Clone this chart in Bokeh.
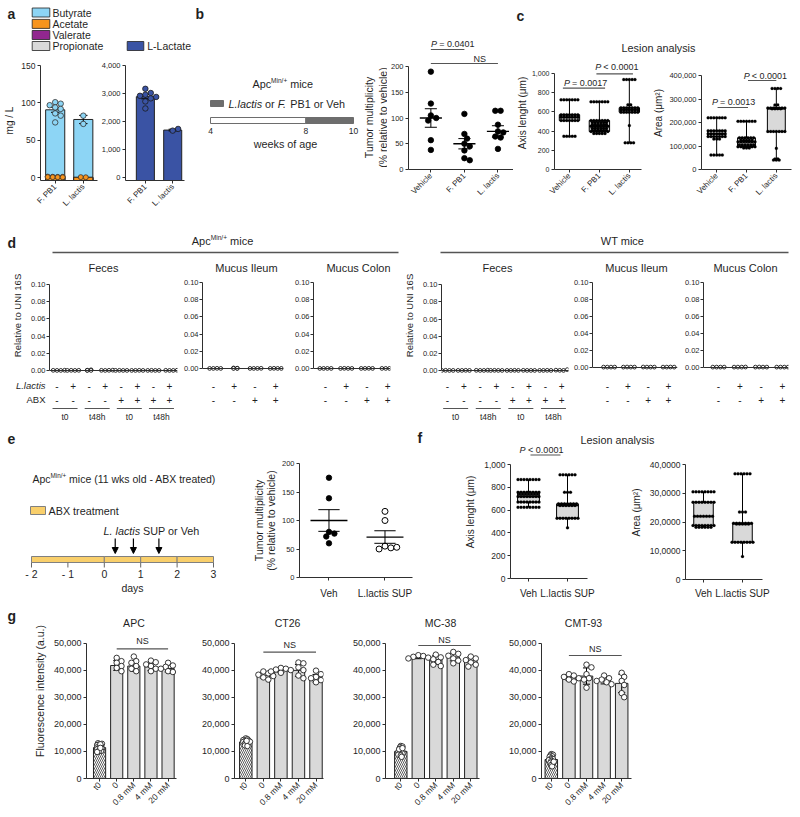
import math
from collections import defaultdict
from bokeh.plotting import figure
from bokeh.layouts import row, column
from bokeh.models import Range1d, LinearAxis, FixedTicker, NumeralTickFormatter, Label, Arrow, NormalHead
from bokeh.embed import file_html
from bokeh.resources import INLINE

FONT = "Liberation Sans"
TXT = "#1f1f1f"
AXC = "#2f2f2f"
LINE = "#555555"
BOXGREY = "#d9d9d9"

# ================= DATA =================
# (a) metabolites (mg / L)
a_groups = ["F. PB1", "L. lactis"]
a_butyrate = [90.8, 77.9]
a_butyrate_sem = [3.3, 5.5]
a_acetate = [1.1, 0.8]
a_valerate = [0.3, 0.2]
a_propionate = [0.5, 0.4]
a_butyrate_pts = [[101, 99, 97, 94, 92, 86, 83, 74], [83, 72]]
a_acetate_pts = [[1.6, 1.4, 1.2, 1.0, 0.9, 0.8, 1.3, 0.7], [0.9, 0.7]]
a_lactate = [2890, 1700]
a_lactate_sem = [75, 30]
a_lactate_pts = [[3170, 3020, 2960, 2920, 2880, 2830, 2720, 2470], [1680, 1740]]
a_series = ["Butyrate", "Acetate", "Valerate", "Propionate", "L-Lactate"]
a_colors = ["#8dd5f5", "#f7941d", "#92278f", "#d9d9d9", "#3a53a4"]

# (b) tumour multiplicity
b_weeks = [4, 8, 10]
b_groups = ["Vehicle", "F. PB1", "L. lactis"]
b_pts = [[190, 128, 105, 100, 95, 57, 38],
         [108, 69, 60, 50, 45, 37, 22, 18],
         [114, 114, 87, 74, 72, 64, 62, 40]]
b_mean = [100, 50, 74]
b_sem = [18, 10, 11]

# (c) lesion analysis
c_groups = ["Vehicle", "F. PB1", "L. lactis"]
c_axis_min = [347, 375, 278]
c_axis_q1 = [510, 396, 597]
c_axis_med = [545, 451, 622]
c_axis_q3 = [570, 510, 643]
c_axis_max = [726, 705, 937]
c_axis_pts = [[726] * 7 + [570] * 7 + [545] * 7 + [510] * 7 + [347] * 5,
              [705] * 7 + [510] * 7 + [490] * 6 + [470] * 6 + [451] * 7 + [430] * 6 + [410] * 6 + [396] * 7 + [375] * 5,
              [937] * 5 + [674] * 2 + [643] * 7 + [622] * 7 + [597] * 7 + [458] + [278] * 4]
c_area_min = [62000, 92000, 40000]
c_area_q1 = [140000, 97000, 162000]
c_area_med = [152000, 118000, 258000]
c_area_q3 = [165000, 135000, 262000]
c_area_max = [220000, 205000, 345000]
c_area_pts = [[220000] * 7 + [165000] * 7 + [152000] * 7 + [140000] * 7 + [130000] * 3 + [62000] * 5,
              [205000] * 7 + [135000] * 6 + [125000] * 5 + [118000] * 7 + [105000] * 6 + [97000] * 7 + [92000] * 3,
              [345000] * 4 + [275000] * 2 + [262000] * 7 + [258000] * 4 + [162000] * 7 + [90000] + [45000] * 2 + [40000] * 3]

# (d) relative to UNI 16S
d_feces_llactis = ["-", "+", "-", "+", "-", "+", "-", "+"]
d_feces_abx = ["-", "-", "-", "-", "+", "+", "+", "+"]
d_feces_time = ["t0", "t48h", "t0", "t48h"]
d_mucus_llactis = ["-", "+", "-", "+"]
d_mucus_abx = ["-", "-", "+", "+"]
d_apc_feces = [[0.0002, 0.0001, 0.0003, 0.0001], [0.0001, 0.0002, 0.0001, 0.0002],
               [0.0003, 0.0008, 0.0002, 0.0001], [0.0002, 0.0001, 0.0004, 0.0002],
               [0.0001, 0.0002, 0.0001, 0.0001], [0.0001, 0.0001, 0.0002, 0.0001],
               [0.0001, 0.0002, 0.0001, 0.0001], [0.0002, 0.0001, 0.0001, 0.0003]]
d_apc_ileum = [[0.0001, 0.0001, 0.0002, 0.0001], [0.0006, 0.0003, 0.0001, 0.0002],
               [0.0001, 0.0001, 0.0001, 0.0002], [0.0001, 0.0002, 0.0001, 0.0001]]
d_apc_colon = [[0.0001, 0.0001, 0.0001, 0.0001], [0.0001, 0.0002, 0.0001, 0.0001],
               [0.0001, 0.0001, 0.0002, 0.0001], [0.0001, 0.0001, 0.0001, 0.0002]]
d_wt_feces = [[0.0001, 0.0002, 0.0001, 0.0001], [0.0001, 0.0001, 0.0002, 0.0001],
              [0.0002, 0.0001, 0.0001, 0.0003], [0.0001, 0.0002, 0.0001, 0.0001],
              [0.0001, 0.0001, 0.0002, 0.0001], [0.0002, 0.0001, 0.0001, 0.0001],
              [0.0001, 0.0001, 0.0002, 0.0001], [0.0010, 0.0004, 0.0002, 0.0001]]
d_wt_ileum = [[0.0001, 0.0001, 0.0001, 0.0001], [0.0001, 0.0002, 0.0001, 0.0001],
              [0.0002, 0.0001, 0.0001, 0.0001], [0.0001, 0.0001, 0.0002, 0.0001]]
d_wt_colon = [[0.0001, 0.0001, 0.0001, 0.0001], [0.0001, 0.0001, 0.0001, 0.0002],
              [0.0001, 0.0002, 0.0001, 0.0001], [0.0001, 0.0001, 0.0001, 0.0001]]

# (e)
e_day_edges = [-2, 0, 1, 2, 3]
e_day_ticks = [-2, -1, 0, 1, 2, 3]
e_day_labels = ["- 2", "- 1", "0", "1", "2", "3"]
e_arrow_days = [0.3, 0.8, 1.5]
e_groups = ["Veh", "L.lactis SUP"]
e_veh = [175, 139, 80, 77, 72, 60]
e_sup = [116, 100, 55, 52, 50, 53]
e_mean = [100, 71]
e_sem = [19, 11]

# (f)
f_groups = ["Veh", "L.lactis SUP"]
f_axis_min = [625, 445]
f_axis_q1 = [670, 529]
f_axis_med = [719, 640]
f_axis_q3 = [757, 655]
f_axis_max = [868, 910]
f_axis_pts = [[868] * 8 + [757] * 8 + [740] * 7 + [719] * 8 + [670] * 8 + [625] * 8,
              [910] * 6 + [757] * 3 + [655] * 7 + [640] * 6 + [529] * 8 + [445]]
f_area_min = [182000, 80000]
f_area_q1 = [188000, 130000]
f_area_med = [220000, 193000]
f_area_q3 = [269000, 196000]
f_area_max = [305000, 368000]
f_area_pts = [[305000] * 8 + [269000] * 8 + [220000] * 7 + [188000] * 8 + [182000] * 6,
              [368000] * 6 + [235000] * 3 + [196000] * 7 + [193000] * 5 + [130000] * 8 + [80000]]
f_area_ticks = [0, 100000, 200000, 300000, 400000]
f_area_labels = ["0", "10,0000", "20,0000", "30,0000", "40,0000"]

# (g) fluorescence intensity (a.u.)
g_doses = ["t0", "0", "0.8 mM", "4 mM", "20 mM"]
g_lines = ["APC", "CT26", "MC-38", "CMT-93"]
g_bars = {
    "APC": [11400, 41700, 41500, 41200, 40600],
    "CT26": [13500, 38100, 39900, 39900, 37000],
    "MC-38": [10000, 44800, 43800, 44800, 43500],
    "CMT-93": [7000, 37300, 37800, 36000, 35100],
}
g_sd = {
    "APC": [1000, 1800, 2000, 1400, 1300],
    "CT26": [700, 1100, 700, 2200, 1400],
    "MC-38": [1100, 600, 1600, 1400, 1400],
    "CMT-93": [1200, 1000, 3000, 1100, 3400],
}
g_pts = {
    "APC": [[13000, 12800, 12500, 12300, 12000, 11800, 11500, 11200, 11000, 10800, 10500, 10200, 10000, 9800, 12600, 11300],
            [44500, 43300, 42700, 41500, 40800, 39600],
            [45000, 43300, 42700, 41500, 40500, 39600],
            [43500, 42900, 42100, 41500, 40500, 39600],
            [42700, 41700, 41200, 40500, 39600, 39300]],
    "CT26": [[14800, 14500, 14200, 14000, 13800, 13500, 13300, 13000, 12800, 12500, 12200, 12000, 13600, 13900],
             [39500, 38800, 38300, 37800, 37300, 36500],
             [40800, 40500, 40200, 40000, 39500, 39000],
             [42800, 42500, 41000, 40000, 38000, 37000],
             [39800, 38500, 37500, 37000, 36300, 35500]],
    "MC-38": [[12000, 11800, 11500, 11000, 10500, 10200, 10000, 9800, 9500, 9200, 9000, 8800, 8500, 8000, 10800, 11200],
              [45500, 45200, 44900, 44600, 44300, 43800],
              [45700, 44700, 44000, 43000, 42000, 41500],
              [46700, 46000, 45300, 44300, 43500, 42500],
              [45000, 44300, 43700, 42800, 42000, 41300]],
    "CMT-93": [[9000, 8800, 8500, 8200, 8000, 7500, 7200, 7000, 6800, 6500, 6000, 5800, 5500, 5000, 4500, 6200],
               [38500, 38000, 37500, 37000, 36500, 35800],
               [42000, 41000, 38500, 37000, 36500, 33500],
               [38000, 37000, 36500, 36000, 35500, 34800],
               [39000, 37500, 36000, 34500, 31500, 30000]],
}

# ================= HELPERS =================
CW = {' ': 278, '(': 333, ')': 333, '%': 889, '+': 584, ',': 278, '-': 333, '.': 278, '/': 278,
      ':': 278, '<': 584, '=': 584, 'A': 667, 'B': 667, 'C': 722, 'D': 722, 'E': 667, 'F': 611,
      'G': 778, 'H': 722, 'I': 278, 'L': 556, 'M': 833, 'N': 722, 'O': 778, 'P': 667, 'S': 667,
      'T': 611, 'U': 722, 'V': 667, 'W': 944, 'X': 667, 'a': 556, 'b': 556, 'c': 500, 'd': 556,
      'e': 556, 'f': 278, 'g': 556, 'h': 556, 'i': 222, 'k': 500, 'l': 222, 'm': 833, 'n': 556,
      'o': 556, 'p': 556, 'r': 333, 's': 500, 't': 278, 'u': 556, 'v': 500, 'w': 722, 'y': 500}
SUP = 0.6


def tw(s, size):
    return sum(CW.get(c, 556) for c in s) / 1000.0 * size


class Panel:
    """A figure whose frame sits at a given place of the page (page pixel coords)."""

    def __init__(self, box, frame=None, xmap=None, ymap=None):
        frame = frame or box
        sx0, sy0, sx1, sy1 = [int(round(v)) for v in box]
        fx0, fy0, fx1, fy1 = [int(round(v)) for v in frame]
        self.xm = xmap or (0.0, 0.0, 1.0, 1.0)
        self.ym = ymap or (0.0, 0.0, 1.0, 1.0)
        self.kx = (self.xm[3] - self.xm[1]) / (self.xm[2] - self.xm[0])
        self.ky = (self.ym[3] - self.ym[1]) / (self.ym[2] - self.ym[0])
        self.y0 = self.Y(fy1)
        self.p = figure(width=sx1 - sx0, height=sy1 - sy0,
                        x_range=Range1d(self.X(fx0), self.X(fx1)),
                        y_range=Range1d(self.Y(fy1), self.Y(fy0)),
                        x_axis_type=None, y_axis_type=None, tools="",
                        output_backend="svg", toolbar_location=None,
                        min_border_left=fx0 - sx0, min_border_right=sx1 - fx1,
                        min_border_top=fy0 - sy0, min_border_bottom=sy1 - fy1,
                        outline_line_color=None, border_fill_color="white",
                        background_fill_color="white")
        try:
            self.p.frame_align = False
        except Exception:
            pass

    def X(self, px):
        return self.xm[1] + (px - self.xm[0]) * self.kx

    def Y(self, py):
        return self.ym[1] + (py - self.ym[0]) * self.ky

    def SX(self, x):
        return self.xm[0] + (x - self.xm[1]) / self.kx


def labd(P, x, y, text, size=10.5, align="center", base="middle", style="normal", angle=0.0, color=TXT):
    P.p.add_layout(Label(x=x, y=y, text=text, text_font=FONT, text_font_size="%.1fpx" % size,
                         text_align=align, text_baseline=base, text_font_style=style,
                         angle=angle, text_color=color))


def lab(P, sx, sy, text, size=10.5, **kw):
    labd(P, P.X(sx), P.Y(sy), text, size, **kw)


def rich(P, sx, sy, parts, size, align="left"):
    sizes = [size * SUP if st == "sup" else size for _, st in parts]
    total = sum(tw(t, s) for (t, _), s in zip(parts, sizes))
    x = sx - total / 2.0 if align == "center" else sx
    for (t, st), s in zip(parts, sizes):
        lead = len(t) - len(t.lstrip(" "))
        core = t.strip(" ")
        xx = x + lead * 0.278 * s
        if st == "sup":
            lab(P, xx, sy - size * 0.3, core, s, align="left")
        else:
            lab(P, xx, sy, core, s, align="left", style=st)
        x += tw(t, s)


def style_axis(ax, size, standoff=2, tick_out=3):
    ax.axis_line_color = AXC
    ax.axis_line_width = 1
    ax.major_tick_line_color = AXC
    ax.major_tick_line_width = 1
    ax.major_tick_in = 0
    ax.major_tick_out = tick_out
    ax.minor_tick_line_color = None
    ax.major_label_text_font = FONT
    ax.major_label_text_font_size = "%.1fpx" % size
    ax.major_label_text_color = TXT
    ax.major_label_standoff = standoff


def set_label(ax, text, size, standoff):
    ax.axis_label = text
    ax.axis_label_text_font = FONT
    ax.axis_label_text_font_size = "%.1fpx" % size
    ax.axis_label_text_font_style = "normal"
    ax.axis_label_text_color = TXT
    ax.axis_label_standoff = standoff


def yaxis(P, ticks, fmt=None, overrides=None, size=7.5, standoff=2, label=None, lsize=10.5,
          lstand=3, low=None):
    lo = min(ticks) if low is None else low
    ax = LinearAxis(ticker=FixedTicker(ticks=ticks), bounds=(lo, max(ticks)))
    style_axis(ax, size, standoff)
    if fmt:
        ax.formatter = NumeralTickFormatter(format=fmt)
    if overrides:
        ax.major_label_overrides = overrides
    if label:
        set_label(ax, label, lsize, lstand)
    P.p.add_layout(ax, "left")
    return ax


def xaxis(P, ticks, labels=None, size=8, orient=math.pi / 4, standoff=2, tick_out=3):
    ax = LinearAxis(ticker=FixedTicker(ticks=ticks))
    style_axis(ax, size, standoff, tick_out)
    ax.major_label_orientation = orient
    if labels is not None:
        ax.major_label_overrides = {t: l for t, l in zip(ticks, labels)}
    P.p.add_layout(ax, "below")
    return ax


def swarm(vals, P, diam, gap=1.0):
    kxp = 1.0 / P.kx
    kyp = 1.0 / abs(P.ky)
    ys = [v * kyp for v in vals]
    step = diam * gap
    offs = [None] * len(vals)
    placed = []
    rows = defaultdict(list)
    for i, y in enumerate(ys):
        rows[round(y * 2)].append(i)
    for key, idx in rows.items():
        if len(idx) > 1:
            n = len(idx)
            for j, i in enumerate(idx):
                o = (j - (n - 1) / 2.0) * step
                offs[i] = o
                placed.append((o, ys[i]))
    for i, y in enumerate(ys):
        if offs[i] is not None:
            continue
        k = 0
        while True:
            o = ((k + 1) // 2) * step * 0.5 * (1 if k % 2 else -1)
            if all((o - po) ** 2 + (y - py) ** 2 >= (step * 0.95) ** 2 for po, py in placed):
                break
            k += 1
        offs[i] = o
        placed.append((o, y))
    return [o / kxp for o in offs]


def scatter_groups(P, groups, diam, fill, line, gap=1.0, lw=0.8, centers=None):
    xs, ys = [], []
    for i, pts in enumerate(groups):
        c = centers[i] if centers else i
        offs = swarm(pts, P, diam, gap)
        xs += [c + o for o in offs]
        ys += list(pts)
    P.p.scatter(x=xs, y=ys, marker="circle", size=diam, fill_color=fill, line_color=line, line_width=lw)


def errbars(P, means, errs, cap, lw=1.0, color="black", half=None):
    xs = list(range(len(means)))
    lo = [m - e for m, e in zip(means, errs)]
    hi = [m + e for m, e in zip(means, errs)]
    if half:
        P.p.segment(x0=[x - half for x in xs], x1=[x + half for x in xs], y0=means, y1=means,
                    line_color=color, line_width=1.3)
    P.p.segment(x0=xs, x1=xs, y0=lo, y1=hi, line_color=color, line_width=lw)
    P.p.segment(x0=[x - cap for x in xs], x1=[x + cap for x in xs], y0=hi, y1=hi, line_color=color, line_width=lw)
    P.p.segment(x0=[x - cap for x in xs], x1=[x + cap for x in xs], y0=lo, y1=lo, line_color=color, line_width=lw)


def boxplot(P, mins, q1, med, q3, maxs, width, pts, diam=3.0):
    xs = list(range(len(mins)))
    P.p.segment(x0=xs, x1=xs, y0=mins, y1=q1, line_color="black", line_width=1)
    P.p.segment(x0=xs, x1=xs, y0=q3, y1=maxs, line_color="black", line_width=1)
    P.p.vbar(x=xs, bottom=q1, top=q3, width=width, fill_color=BOXGREY, line_color="black", line_width=1)
    P.p.segment(x0=[x - width / 2 for x in xs], x1=[x + width / 2 for x in xs], y0=med, y1=med,
                line_color="black", line_width=1.2)
    scatter_groups(P, pts, diam, "black", "black", gap=1.0, lw=0.2)


def sig(P, cx, sy_text, text_parts, x0, x1, sy_line, size=9):
    rich(P, cx, sy_text, text_parts, size, align="center")
    y = P.Y(sy_line)
    P.p.segment(x0=[x0], x1=[x1], y0=[y], y1=[y], line_color=LINE, line_width=1.2)


# ================= PANEL a =================
A_head = Panel((0, 0, 194, 58))
lab(A_head, 7, 13, "a", 14, align="left", style="bold")
leg_y = [12, 23.4, 34.5, 45.5]
for name, col, yy in zip(a_series[:4], a_colors[:4], leg_y):
    A_head.p.quad(left=[31.7], right=[49.3], top=[yy - 4.5], bottom=[yy + 4.5],
                  fill_color=col, line_color="#222222", line_width=0.8)
    lab(A_head, 52, yy, name, 10.5, align="left")
A_head.p.quad(left=[126.7], right=[143.3], top=[41], bottom=[50],
              fill_color=a_colors[4], line_color="#222222", line_width=0.8)
lab(A_head, 146.7, 45.5, a_series[4], 10.5, align="left")

A1 = Panel((0, 58, 98, 220), (40, 60, 97, 180), (54.7, 0, 82.8, 1), (177.3, 0, 65, 150))
yaxis(A1, [0, 50, 100, 150], size=8.5, label="mg / L", lsize=10, lstand=3, low=A1.y0)
xaxis(A1, [0, 1], a_groups, size=8)
for vals, col in [(a_butyrate, a_colors[0]), (a_propionate, a_colors[3]),
                  (a_valerate, a_colors[2]), (a_acetate, a_colors[1])]:
    A1.p.vbar(x=[0, 1], top=vals, bottom=A1.y0, width=0.68, fill_color=col, line_color="#222222", line_width=1)
errbars(A1, a_butyrate, a_butyrate_sem, 0.15)
scatter_groups(A1, a_butyrate_pts, 5.5, a_colors[0], "#333333")
scatter_groups(A1, a_acetate_pts, 5.0, a_colors[1], "#333333")

A2 = Panel((98, 58, 194, 220), (124, 60, 184, 180), (144.2, 0, 172, 1), (177.3, 0, 65, 4000))
yaxis(A2, [0, 1000, 2000, 3000, 4000], fmt="0,0", size=7.5, low=A2.y0)
xaxis(A2, [0, 1], a_groups, size=8)
A2.p.vbar(x=[0, 1], top=a_lactate, bottom=A2.y0, width=0.66, fill_color=a_colors[4],
          line_color="#222222", line_width=1)
errbars(A2, a_lactate, a_lactate_sem, 0.15)
scatter_groups(A2, a_lactate_pts, 5.5, a_colors[4], "#1a1a1a")

# ================= PANEL b =================
# timeline drawn on the figure's own week scale (x) ; y in page pixels
B_diag = Panel((194, 0, 359, 220), None, (210, 4, 353, 10))
B_diag.p.quad(left=b_weeks[:-1], right=b_weeks[1:], top=117, bottom=123,
              fill_color=["white", "#6d6d6d"], line_color="#6d6d6d", line_width=1)
for w in b_weeks:
    labd(B_diag, w, 130, str(w), 8.5)
lab(B_diag, 285, 143, "weeks of age", 10.8)
B_diag.p.quad(left=[B_diag.X(210)], right=[B_diag.X(223)], top=[100], bottom=[106],
              fill_color="#6d6d6d", line_color="#6d6d6d")
lab(B_diag, 195, 13, "b", 14, align="left", style="bold")
rich(B_diag, 252, 83, [("Apc", "normal"), ("Min/+", "sup"), (" mice", "normal")], 10.8)
rich(B_diag, 228, 103, [("L.lactis", "italic"), (" or ", "normal"), ("F.", "italic"),
                        (" PB1 or Veh", "normal")], 10.8)

B_ylab = Panel((359, 0, 387, 220))
lab(B_ylab, 368, 117, "Tumor multiplicity", 10.5, angle=math.pi / 2)
lab(B_ylab, 382, 117, "(% relative to vehicle)", 10.5, angle=math.pi / 2)

B_plot = Panel((387, 0, 513, 220), (405, 30, 513, 169), (428, 0, 462.5, 1), (169, 0, 66, 200))
yaxis(B_plot, [0, 50, 100, 150, 200], size=7.5)
xaxis(B_plot, [0, 1, 2], b_groups, size=8)
scatter_groups(B_plot, b_pts, 5.5, "black", "black")
errbars(B_plot, b_mean, b_sem, 0.18, lw=1.0, half=0.33)
sig(B_plot, 450, 43, [("P", "italic"), (" = 0.0401", "normal")], 0, 1, 49)
sig(B_plot, 478, 58, [("NS", "normal")], 0, 2, 63)

# ================= PANEL c =================
C_head = Panel((513, 0, 800, 56))
lab(C_head, 516, 15, "c", 14, align="left", style="bold")
lab(C_head, 658, 47, "Lesion analysis", 10.8)

C1 = Panel((513, 56, 650, 220), (548, 56, 641, 169), (564, 0, 596, 1), (169, 0, 73, 1000))
yaxis(C1, [0, 200, 400, 600, 800, 1000], fmt="0,0", size=7,
      label="Axis lenght (\u03bcm)", lsize=10, lstand=1)
xaxis(C1, [0, 1, 2], c_groups, size=8)
boxplot(C1, c_axis_min, c_axis_q1, c_axis_med, c_axis_q3, c_axis_max, 0.68, c_axis_pts)
sig(C1, 580, 82, [("P", "italic"), (" = 0.0017", "normal")], -0.22, 1.19, 87.7)
sig(C1, 613.5, 66, [("P", "italic"), (" < 0.0001", "normal")], 0.9, 2.12, 73.3)

C2 = Panel((650, 56, 800, 220), (696, 56, 791, 169), (712, 0, 743.5, 1), (169, 0, 75, 400000))
yaxis(C2, [0, 100000, 200000, 300000, 400000], fmt="0,0", size=7.5,
      label="Area (\u03bcm\u00b2)", lsize=10, lstand=2)
xaxis(C2, [0, 1, 2], c_groups, size=8)
boxplot(C2, c_area_min, c_area_q1, c_area_med, c_area_q3, c_area_max, 0.6, c_area_pts)
sig(C2, 729, 101, [("P", "italic"), (" = 0.0013", "normal")], 0.03, 1.05, 107)
sig(C2, 762.5, 75, [("P", "italic"), (" < 0.0001", "normal")], 1.05, 2.0, 80)

# ================= PANEL d =================
D_head = Panel((0, 220, 800, 256))
lab(D_head, 7, 242, "d", 14, align="left", style="bold")
rich(D_head, 222, 240, [("Apc", "normal"), ("Min/+", "sup"), (" mice", "normal")], 11, align="center")
D_head.p.segment(x0=[52, 440], x1=[398, 788], y0=[252, 252], y1=[252, 252], line_color=LINE, line_width=1.5)
lab(D_head, 622, 240, "WT mice", 11)

d_specs = [
    ((0, 256, 180, 378), (49, 256, 177, 374), (56.5, 0, 72.57, 1), (370, 0, 284, 0.1), "Feces", 103, d_apc_feces, True, True),
    ((180, 256, 290, 378), (200, 256, 283, 372), (213, 0, 233.7, 1), (368, 0, 282, 0.1), "Mucus Ileum", 245, d_apc_ileum, False, False),
    ((290, 256, 400, 378), (313, 256, 390, 372), (325, 0, 345.7, 1), (368, 0, 282, 0.1), "Mucus Colon", 358, d_apc_colon, False, False),
    ((400, 256, 570, 378), (441, 256, 568, 374), (447, 0, 463.3, 1), (370, 0, 284.3, 0.1), "Feces", 497, d_wt_feces, True, False),
    ((570, 256, 681, 378), (590, 256, 677, 371), (607, 0, 627.3, 1), (366.7, 0, 281.7, 0.1), "Mucus Ileum", 635, d_wt_ileum, False, False),
    ((681, 256, 800, 378), (703, 256, 788, 371), (718, 0, 739.3, 1), (366.7, 0, 281.7, 0.1), "Mucus Colon", 745, d_wt_colon, False, False),
]
D = []
D_foot = Panel((0, 378, 800, 420))
for box, frame, xm, ym, title, tx, data, feces, rowlabels in d_specs:
    P = Panel(box, frame, xm, ym)
    if feces:
        yaxis(P, [0, 0.02, 0.04, 0.06, 0.08, 0.1], fmt="0.00", size=7.5, standoff=1,
              label="Relative to UNI 16S", lsize=9.5, lstand=5)
    else:
        yaxis(P, [0, 0.02, 0.04, 0.06, 0.08, 0.1], fmt="0.00", size=7.5, standoff=1)
    axd = xaxis(P, [], None, size=7, orient="horizontal", tick_out=0)
    axd.fixed_location = 0.0
    scatter_groups(P, data, 3.8, "white", "black", gap=1.0, lw=0.8)
    lab(P, tx, 267, title, 11)
    n = len(data)
    ll = d_feces_llactis if feces else d_mucus_llactis
    abx = d_feces_abx if feces else d_mucus_abx
    for i in range(n):
        lab(D_foot, P.SX(i), 385, ll[i], 10)
        lab(D_foot, P.SX(i), 399, abx[i], 10)
    if feces:
        for k, tl in enumerate(d_feces_time):
            c = P.SX(2 * k + 0.5)
            D_foot.p.segment(x0=[c - 12.5], x1=[c + 12.5], y0=[408], y1=[408], line_color=LINE, line_width=1)
            lab(D_foot, c, 416, tl, 8.5)
    if rowlabels:
        lab(D_foot, 45, 385, "L.lactis", 9.5, align="right", style="italic")
        lab(D_foot, 45, 399, "ABX", 9.5, align="right")
    D.append(P)

# ================= PANEL e =================
E_diag = Panel((0, 420, 240, 603), None, (31, -2, 213, 3))
E_diag.p.quad(left=e_day_edges[:-1], right=e_day_edges[1:], top=556, bottom=562,
              fill_color="#f9cf6b", line_color="#808080", line_width=1)
E_diag.p.segment(x0=e_day_ticks, x1=e_day_ticks, y0=562, y1=567, line_color="#666666", line_width=1)
for d, tl in zip(e_day_ticks, e_day_labels):
    labd(E_diag, d, 573.5, tl, 10.5)
lab(E_diag, 132, 587.5, "days", 10.5)
E_diag.p.quad(left=[E_diag.X(30)], right=[E_diag.X(45)], top=[506], bottom=[514],
              fill_color="#f9cf6b", line_color="#808080", line_width=1)
for d in e_arrow_days:
    E_diag.p.add_layout(Arrow(end=NormalHead(size=6, fill_color="black", line_color="black"),
                              x_start=d, y_start=538, x_end=d, y_end=553,
                              line_color="black", line_width=1.2))
lab(E_diag, 7, 438, "e", 14, align="left", style="bold")
rich(E_diag, 32, 478, [("Apc", "normal"), ("Min/+", "sup"), (" mice (11 wks old - ABX treated)", "normal")], 10.5)
lab(E_diag, 48, 510, "ABX treatment", 10.8, align="left")
rich(E_diag, 103, 530, [("L. lactis", "italic"), (" SUP or Veh", "normal")], 10.8)

E_ylab = Panel((240, 420, 278, 603))
lab(E_ylab, 258, 520, "Tumor multiplicity", 10.5, angle=math.pi / 2)
lab(E_ylab, 270, 520, "(% relative to vehicle)", 10.5, angle=math.pi / 2)

E_plot = Panel((278, 420, 415, 603), (297, 440, 412, 577), (327, 0, 384, 1), (577, 0, 463, 200))
yaxis(E_plot, [0, 50, 100, 150, 200], size=7.5)
xaxis(E_plot, [0, 1], e_groups, size=10, orient="horizontal", standoff=7)
scatter_groups(E_plot, [e_veh], 5.5, "black", "black")
scatter_groups(E_plot, [e_sup], 6.0, "white", "black", lw=1.0, centers=[1])
errbars(E_plot, e_mean, e_sem, 0.19, lw=1.0, half=0.33)

# ================= PANEL f =================
F_head = Panel((415, 420, 800, 445))
lab(F_head, 417, 437, "f", 14, align="left", style="bold")
lab(F_head, 617, 439, "Lesion analysis", 10.8)

F1 = Panel((415, 445, 600, 603), (510, 445, 587, 578), (528, 0, 567, 1), (578, 0, 464, 1000))
yaxis(F1, [0, 200, 400, 600, 800, 1000], fmt="0,0", size=8.5,
      label="Axis lenght (\u03bcm)", lsize=10, lstand=5)
xaxis(F1, [0, 1], f_groups, size=10, orient="horizontal", standoff=6)
boxplot(F1, f_axis_min, f_axis_q1, f_axis_med, f_axis_q3, f_axis_max, 0.56, f_axis_pts)
sig(F1, 541, 449, [("P", "italic"), (" < 0.0001", "normal")], 0.05, 0.82, 454.5)

F2 = Panel((600, 445, 800, 603), (685, 445, 762, 579), (703, 0, 742, 1), (579, 0, 464, 400000))
yaxis(F2, f_area_ticks, overrides={t: l for t, l in zip(f_area_ticks, f_area_labels)}, size=8.5,
      label="Area (\u03bcm\u00b2)", lsize=10, lstand=5)
xaxis(F2, [0, 1], f_groups, size=10, orient="horizontal", standoff=5)
boxplot(F2, f_area_min, f_area_q1, f_area_med, f_area_q3, f_area_max, 0.5, f_area_pts)

# ================= PANEL g =================
G_left = Panel((0, 603, 30, 816))
lab(G_left, 7, 615, "g", 14, align="left", style="bold")
g_specs = [
    ("APC", (30, 603, 182, 816), (83, 603, 176, 778), (96.5, 0, 114.2, 1), 132, 640, 648.3),
    ("CT26", (182, 603, 330, 816), (234, 603, 323, 778), (245.3, 0, 262.85, 1), 287, 644, 651.7),
    ("MC-38", (330, 603, 485, 816), (385, 603, 479, 778), (400.3, 0, 417.8, 1), 440, 639, 645),
    ("CMT-93", (485, 603, 800, 816), (541, 603, 631, 778), (550.8, 0, 568.4, 1), 583, 648, 655),
]
G = []
for k, (name, box, frame, xm, tx, nsy, nsl) in enumerate(g_specs):
    P = Panel(box, frame, xm, (778, 0, 642.5, 50000))
    if k == 0:
        yaxis(P, [0, 10000, 20000, 30000, 40000, 50000], fmt="0,0", size=9,
              label="Fluorescence intensity (a.u.)", lsize=10.5, lstand=5)
    else:
        yaxis(P, [0, 10000, 20000, 30000, 40000, 50000], fmt="0,0", size=9)
    xaxis(P, list(range(5)), g_doses, size=8.5)
    vals = g_bars[name]
    P.p.vbar(x=[0], top=[vals[0]], width=0.71, fill_color="white", line_color="#222222", line_width=1,
             hatch_pattern="\\", hatch_color="#333333", hatch_scale=4, hatch_weight=0.8)
    P.p.vbar(x=[1, 2, 3, 4], top=vals[1:], width=0.71, fill_color=BOXGREY, line_color="#222222", line_width=1)
    errbars(P, vals, g_sd[name], 0.2, lw=1.0)
    scatter_groups(P, [g_pts[name][0]], 5.5, "white", "#222222", gap=0.3, lw=0.9)
    scatter_groups(P, g_pts[name][1:], 5.5, "white", "#222222", gap=0.9, lw=0.9, centers=[1, 2, 3, 4])
    lab(P, tx, 622, name, 10.5)
    labd(P, 2.5, P.Y(nsy), "NS", 9)
    y = P.Y(nsl)
    P.p.segment(x0=[1], x1=[4], y0=[y], y1=[y], line_color=LINE, line_width=1.2)
    G.append(P)

# ================= LAYOUT =================
band1 = row(column(A_head.p, row(A1.p, A2.p)), B_diag.p, B_ylab.p, B_plot.p,
            column(C_head.p, row(C1.p, C2.p)))
band2 = column(D_head.p, row(*[P.p for P in D]), D_foot.p)
band3 = row(E_diag.p, E_ylab.p, E_plot.p, column(F_head.p, row(F1.p, F2.p)))
band4 = row(G_left.p, *[P.p for P in G])
layout = column(band1, band2, band3, band4)

open("out.html", "w").write(file_html(layout, INLINE))
